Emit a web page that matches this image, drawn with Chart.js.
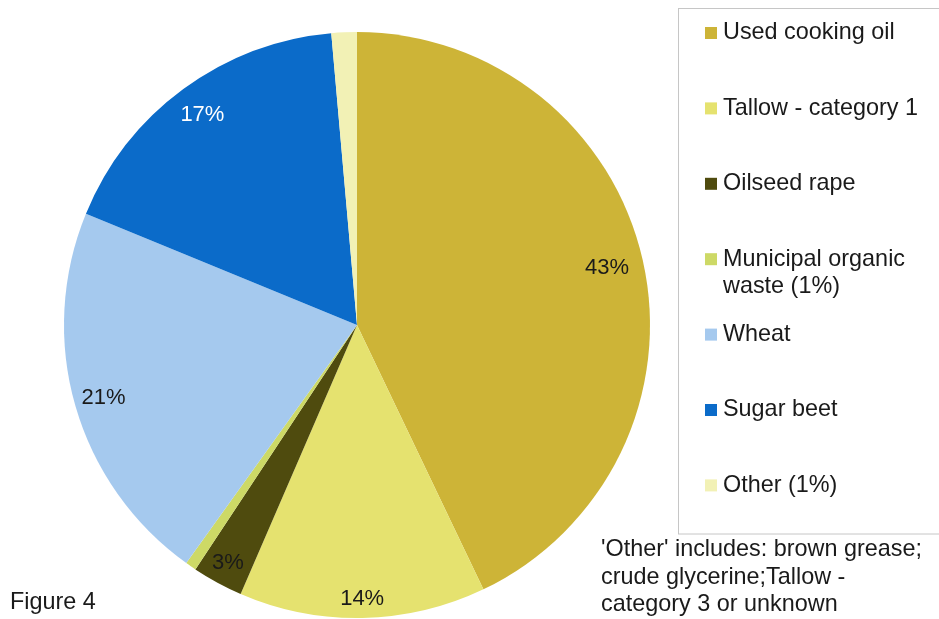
<!DOCTYPE html>
<html>
<head>
<meta charset="utf-8">
<script src="https://cdn.jsdelivr.net/npm/chart.js@4/dist/chart.umd.min.js"></script>
<style>
  html, body { margin: 0; padding: 0; background: #ffffff; }
  #wrap { position: relative; width: 939px; height: 619px; overflow: hidden; }
  canvas { display: block; }
</style>
</head>
<body>
<div id="wrap"><canvas id="c" width="939" height="619"></canvas></div>
<script>
// ---- data ----
const categories = [
  'Used cooking oil',
  'Tallow - category 1',
  'Oilseed rape',
  'Municipal organic waste (1%)',
  'Wheat',
  'Sugar beet',
  'Other (1%)'
];
const legendLines = [
  ['Used cooking oil'],
  ['Tallow - category 1'],
  ['Oilseed rape'],
  ['Municipal organic', 'waste (1%)'],
  ['Wheat'],
  ['Sugar beet'],
  ['Other (1%)']
];
const shares = [42.9, 13.6, 2.8, 0.6, 21.3, 17.4, 1.4];
const sliceColors = ['#CDB437', '#E5E26F', '#4F4B0E', '#CDD966', '#A5C9EE', '#0B6BC9', '#F2F1B5'];
const labelColors = ['#1a1a1a', '#1a1a1a', '#1a1a1a', '#1a1a1a', '#1a1a1a', '#ffffff', '#1a1a1a'];
const noteLines = ["'Other' includes: brown grease;", 'crude glycerine;Tallow -', 'category 3 or unknown'];
const figureTitle = 'Figure 4';

const FONT = '"Liberation Sans", Arial, sans-serif';

// data labels on the slices
const sliceLabels = {
  id: 'sliceLabels',
  afterDatasetsDraw(chart, args, opts) {
    const ctx = chart.ctx;
    const meta = chart.getDatasetMeta(0);
    const ds = chart.data.datasets[0];
    ctx.save();
    ctx.font = '22px ' + FONT;
    ctx.textAlign = 'center';
    ctx.textBaseline = 'middle';
    meta.data.forEach((arc, i) => {
      const v = ds.data[i];
      if (v < opts.minValue) return;
      const p = arc.getProps(['x', 'y', 'startAngle', 'endAngle', 'outerRadius'], true);
      const mid = (p.startAngle + p.endAngle) / 2;
      const r = p.outerRadius * opts.radiusFrac[i];
      ctx.fillStyle = labelColors[i];
      ctx.fillText(Math.round(v) + '%', p.x + Math.cos(mid) * r, p.y + Math.sin(mid) * r);
    });
    ctx.restore();
  }
};

// legend box, footnote and figure title
const sideTexts = {
  id: 'sideTexts',
  afterDraw(chart, args, opts) {
    const ctx = chart.ctx;
    const colors = chart.data.datasets[0].backgroundColor;
    ctx.save();
    // legend frame
    ctx.strokeStyle = '#c6c6c6';
    ctx.lineWidth = 1;
    ctx.strokeRect(678.5, 8.5, 280, 525.5);
    ctx.font = '23.4px ' + FONT;
    ctx.textBaseline = 'middle';
    ctx.textAlign = 'left';
    legendLines.forEach((lines, i) => {
      const y = 33 + i * 75.4;
      ctx.fillStyle = colors[i];
      ctx.fillRect(705, y - 6, 12, 12);
      ctx.fillStyle = '#1a1a1a';
      lines.forEach((t, k) => ctx.fillText(t, 723, y + k * 27.5));
    });
    // footnote
    ctx.fillStyle = '#1a1a1a';
    noteLines.forEach((t, k) => ctx.fillText(t, 601, 550 + k * 27.5));
    // figure title
    ctx.fillText(figureTitle, 10, 603);
    ctx.restore();
  }
};

new Chart(document.getElementById('c'), {
  type: 'pie',
  data: {
    labels: categories,
    datasets: [{
      data: shares,
      backgroundColor: sliceColors,
      borderWidth: 0,
      hoverOffset: 0,
      offset: 0
    }]
  },
  options: {
    responsive: false,
    animation: false,
    events: [],
    layout: { padding: { left: 64, right: 289, top: 32, bottom: 1 } },
    plugins: {
      legend: { display: false },
      tooltip: { enabled: false },
      title: { display: false },
      sliceLabels: { minValue: 2, radiusFrac: [0.875, 0.935, 0.925, 0.9, 0.9, 0.89, 0.9] }
    }
  },
  plugins: [sliceLabels, sideTexts]
});
</script>
</body>
</html>
